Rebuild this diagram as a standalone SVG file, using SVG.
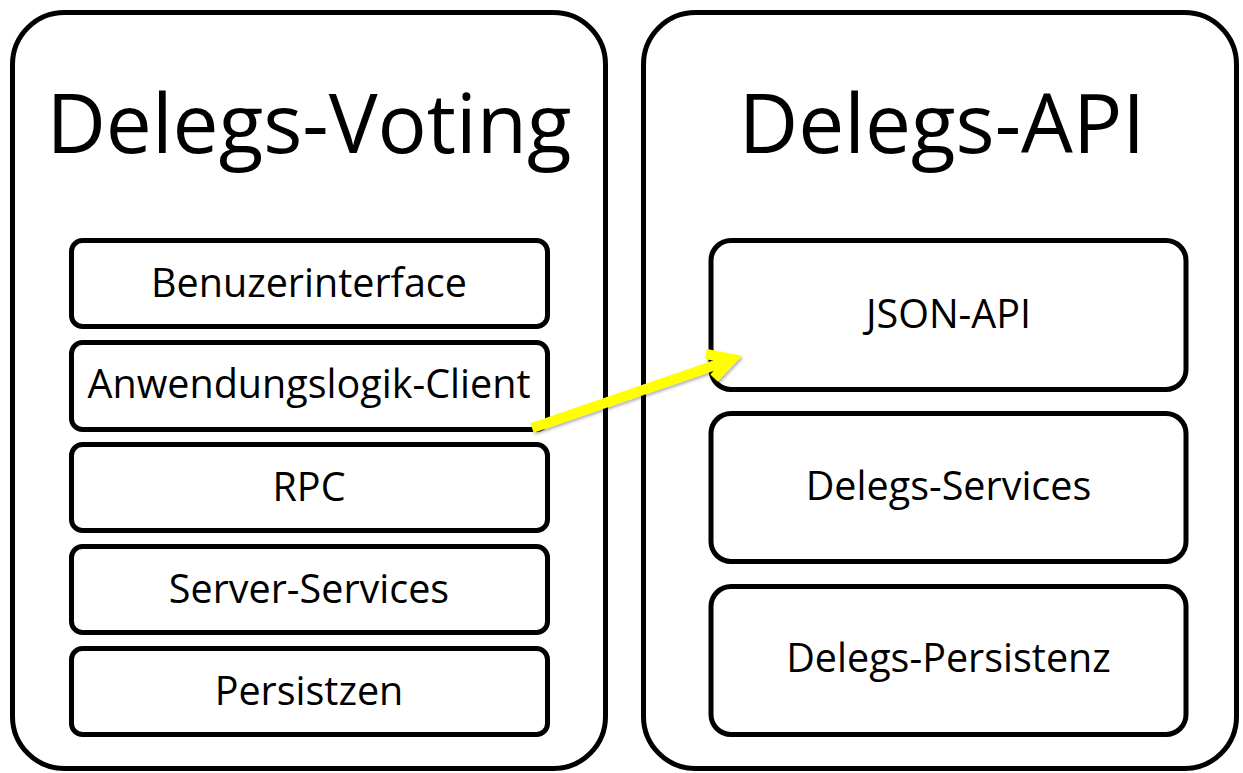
<svg xmlns="http://www.w3.org/2000/svg" width="1243" height="773" viewBox="0 0 1243 773">
  <defs>
    <style>
      .outer { fill: #ffffff; stroke: #000000; stroke-width: 5; }
      .layer { fill: #ffffff; stroke: #000000; stroke-width: 5; }
      .title { font-family: "Open Sans", "Noto Sans", sans-serif; font-size: 82px; fill: #000000; text-anchor: middle; }
      .label { font-family: "Open Sans", "Noto Sans", sans-serif; font-size: 39.5px; fill: #000000; text-anchor: middle; }
      .arrow { fill: none; stroke: #ffff00; stroke-width: 10; stroke-linejoin: miter; }
    </style>
    <filter id="shadow" x="-10%" y="-20%" width="120%" height="140%">
      <feDropShadow dx="1.5" dy="2" stdDeviation="1.5" flood-color="#000000" flood-opacity="0.3"/>
    </filter>
  </defs>
  <rect width="1243" height="773" fill="#ffffff"/>

  <!-- Client application -->
  <g id="delegs-voting">
    <rect class="outer" x="12.5" y="12.5" width="593" height="756" rx="52" ry="52"/>
    <text class="title" x="309" y="153">Delegs-Voting</text>
  </g>
  <g id="benuzerinterface">
    <rect class="layer" x="71.5" y="240.5" width="476" height="86" rx="11" ry="11"/>
    <text class="label" x="309" y="297">Benuzerinterface</text>
  </g>
  <g id="anwendungslogik-client">
    <rect class="layer" x="71.5" y="342.5" width="476" height="87" rx="11" ry="11"/>
    <text class="label" x="309" y="398">Anwendungslogik-Client</text>
  </g>
  <g id="rpc">
    <rect class="layer" x="71.5" y="444.5" width="476" height="86" rx="11" ry="11"/>
    <text class="label" x="309" y="501">RPC</text>
  </g>
  <g id="server-services">
    <rect class="layer" x="71.5" y="546.5" width="476" height="86" rx="11" ry="11"/>
    <text class="label" x="309" y="603">Server-Services</text>
  </g>
  <g id="persistzen">
    <rect class="layer" x="71.5" y="648.5" width="476" height="86" rx="11" ry="11"/>
    <text class="label" x="309" y="705">Persistzen</text>
  </g>

  <!-- Server API -->
  <g id="delegs-api">
    <rect class="outer" x="643.5" y="12.5" width="593" height="756" rx="52" ry="52"/>
    <text class="title" x="942" y="153">Delegs-API</text>
  </g>
  <g id="json-api">
    <rect class="layer" x="711" y="240.5" width="475" height="149" rx="20" ry="20"/>
    <text class="label" x="948.5" y="328">JSON-API</text>
  </g>
  <g id="delegs-services">
    <rect class="layer" x="711" y="413.5" width="475" height="148" rx="20" ry="20"/>
    <text class="label" x="948.5" y="500">Delegs-Services</text>
  </g>
  <g id="delegs-persistenz">
    <rect class="layer" x="711" y="586.5" width="475" height="148" rx="20" ry="20"/>
    <text class="label" x="948.5" y="672">Delegs-Persistenz</text>
  </g>

  <!-- Call from client logic into the JSON API -->
  <g id="connectors" filter="url(#shadow)">
    <line class="arrow" x1="532" y1="428" x2="730" y2="360"/>
    <polyline class="arrow" points="706,354 732,359 714,378"/>
  </g>
</svg>
